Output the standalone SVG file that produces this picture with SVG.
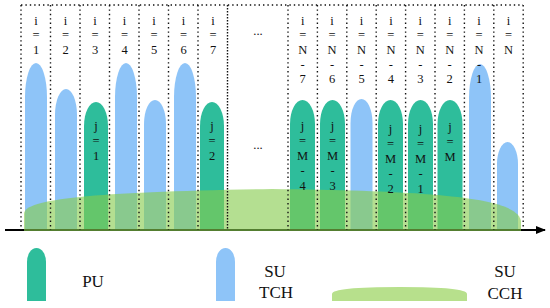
<svg xmlns="http://www.w3.org/2000/svg" width="550" height="308" viewBox="0 0 550 308">
<defs>
<style>
.pu{fill:#2EBD9B}
.su{fill:#8EC4F8}
.cch{fill:#86CC4E;fill-opacity:0.62}
.dot{stroke:#111;stroke-width:1.4;stroke-dasharray:1.4 3;fill:none}
.dotd{stroke:#111;stroke-width:1.4;stroke-dasharray:1.4 1.6;fill:none}
text{font-family:'Liberation Serif','Times New Roman','DejaVu Serif',serif;fill:#111;text-anchor:middle}
.t text{font-size:12.5px}
.lg{font-size:17px}
.axis{stroke:#000;stroke-width:1.8;fill:none}
</style>
<marker id="arr" markerWidth="10" markerHeight="8" refX="9" refY="4" orient="auto" markerUnits="userSpaceOnUse">
<path d="M0,0 L10,4 L0,8 Z" fill="#000"/>
</marker>
</defs>
<rect width="550" height="308" fill="#fff"/>

<g id="bubbles">
<g id="b1"><path class="su" d="M25,230 V97 A11 34 0 0 1 47,97 V230 Z"/></g>
<g id="b2"><path class="su" d="M55,230 V115 A11 26 0 0 1 77,115 V230 Z"/></g>
<g id="b3"><path class="pu" d="M84,230 V126 A12 24 0 0 1 108,126 V230 Z"/></g>
<g id="b4"><path class="su" d="M115,230 V97 A11 34 0 0 1 137,97 V230 Z"/></g>
<g id="b5"><path class="su" d="M144,230 V124 A11 24 0 0 1 166,124 V230 Z"/></g>
<g id="b6"><path class="su" d="M174,230 V97 A11 34 0 0 1 196,97 V230 Z"/></g>
<g id="b7"><path class="pu" d="M200,230 V126 A12 24 0 0 1 224,126 V230 Z"/></g>
<g id="b8"><path class="pu" d="M290,230 V124 A12.5 24 0 0 1 315,124 V230 Z"/></g>
<g id="b9"><path class="pu" d="M320,230 V124 A12.5 24 0 0 1 345,124 V230 Z"/></g>
<g id="b10"><path class="su" d="M350.5,230 V123 A11 24 0 0 1 372.5,123 V230 Z"/></g>
<g id="b11"><path class="pu" d="M378,230 V124 A12.5 24 0 0 1 403,124 V230 Z"/></g>
<g id="b12"><path class="pu" d="M408,230 V124 A12.5 24 0 0 1 433,124 V230 Z"/></g>
<g id="b13"><path class="pu" d="M437.5,230 V124 A12.5 24 0 0 1 462.5,124 V230 Z"/></g>
<g id="b14"><path class="su" d="M469,230 V98 A11 34 0 0 1 491,98 V230 Z"/></g>
<g id="b15"><path class="su" d="M497,230 V164 A10.5 22 0 0 1 518,164 V230 Z"/></g>
</g>

<g id="connectors">
<line class="axis" x1="5" y1="230" x2="545" y2="230" marker-end="url(#arr)"/>
</g>

<g id="cch">
<path class="cch" d="M24,231 L24,214 C24,198 100,192 272,189 C440,191 520,198 521,222 L521,231 Z"/>
</g>

<g id="grid">
<line class="dot" x1="21" y1="5" x2="523" y2="5"/>
<line class="dot" x1="21" y1="5" x2="21" y2="230"/>
<line class="dot" x1="50.5" y1="5" x2="50.5" y2="230"/>
<line class="dot" x1="80" y1="5" x2="80" y2="230"/>
<line class="dot" x1="109.5" y1="5" x2="109.5" y2="230"/>
<line class="dot" x1="139" y1="5" x2="139" y2="230"/>
<line class="dot" x1="168.5" y1="5" x2="168.5" y2="230"/>
<line class="dot" x1="198" y1="5" x2="198" y2="230"/>
<line class="dotd" x1="227.5" y1="5" x2="227.5" y2="230"/>
<line class="dot" x1="288" y1="5" x2="288" y2="230"/>
<line class="dot" x1="317.4" y1="5" x2="317.4" y2="230"/>
<line class="dot" x1="346.8" y1="5" x2="346.8" y2="230"/>
<line class="dot" x1="376.2" y1="5" x2="376.2" y2="230"/>
<line class="dot" x1="405.6" y1="5" x2="405.6" y2="230"/>
<line class="dot" x1="435" y1="5" x2="435" y2="230"/>
<line class="dot" x1="464.4" y1="5" x2="464.4" y2="230"/>
<line class="dot" x1="493.8" y1="5" x2="493.8" y2="230"/>
<line class="dot" x1="523.2" y1="5" x2="523.2" y2="230"/>
</g>

<g id="labels">
<g id="c1" class="t"><text x="36" y="25">i</text><text x="36" y="38.5">=</text><text x="36" y="54">1</text></g>
<g id="c2" class="t"><text x="65.5" y="25">i</text><text x="65.5" y="38.5">=</text><text x="65.5" y="54">2</text></g>
<g id="c3" class="t"><text x="95" y="25">i</text><text x="95" y="38.5">=</text><text x="95" y="54">3</text></g>
<g id="c4" class="t"><text x="124.5" y="25">i</text><text x="124.5" y="38.5">=</text><text x="124.5" y="54">4</text></g>
<g id="c5" class="t"><text x="154" y="25">i</text><text x="154" y="38.5">=</text><text x="154" y="54">5</text></g>
<g id="c6" class="t"><text x="183.5" y="25">i</text><text x="183.5" y="38.5">=</text><text x="183.5" y="54">6</text></g>
<g id="c7" class="t"><text x="213" y="25">i</text><text x="213" y="38.5">=</text><text x="213" y="54">7</text></g>
<g id="gap" class="t"><text x="258" y="35">...</text><text x="258" y="149">...</text></g>
<g id="c8" class="t"><text x="302.7" y="25">i</text><text x="302.7" y="38.5">=</text><text x="302.7" y="54">N</text><text x="302.7" y="68.5">-</text><text x="302.7" y="83">7</text></g>
<g id="c9" class="t"><text x="332.1" y="25">i</text><text x="332.1" y="38.5">=</text><text x="332.1" y="54">N</text><text x="332.1" y="68.5">-</text><text x="332.1" y="83">6</text></g>
<g id="c10" class="t"><text x="361.5" y="25">i</text><text x="361.5" y="38.5">=</text><text x="361.5" y="54">N</text><text x="361.5" y="68.5">-</text><text x="361.5" y="83">5</text></g>
<g id="c11" class="t"><text x="390.9" y="25">i</text><text x="390.9" y="38.5">=</text><text x="390.9" y="54">N</text><text x="390.9" y="68.5">-</text><text x="390.9" y="83">4</text></g>
<g id="c12" class="t"><text x="420.3" y="25">i</text><text x="420.3" y="38.5">=</text><text x="420.3" y="54">N</text><text x="420.3" y="68.5">-</text><text x="420.3" y="83">3</text></g>
<g id="c13" class="t"><text x="449.7" y="25">i</text><text x="449.7" y="38.5">=</text><text x="449.7" y="54">N</text><text x="449.7" y="68.5">-</text><text x="449.7" y="83">2</text></g>
<g id="c14" class="t"><text x="479.1" y="25">i</text><text x="479.1" y="38.5">=</text><text x="479.1" y="54">N</text><text x="479.1" y="68.5">-</text><text x="479.1" y="83">1</text></g>
<g id="c15" class="t"><text x="508.5" y="25">i</text><text x="508.5" y="38.5">=</text><text x="508.5" y="54">N</text></g>

<g id="j1" class="t"><text x="96" y="130">j</text><text x="96" y="145">=</text><text x="96" y="160">1</text></g>
<g id="j2" class="t"><text x="212" y="130">j</text><text x="212" y="145">=</text><text x="212" y="160">2</text></g>
<g id="j3" class="t"><text x="302.5" y="130">j</text><text x="302.5" y="145">=</text><text x="302.5" y="160">M</text><text x="302.5" y="175">-</text><text x="302.5" y="190">4</text></g>
<g id="j4" class="t"><text x="332.5" y="130">j</text><text x="332.5" y="145">=</text><text x="332.5" y="160">M</text><text x="332.5" y="175">-</text><text x="332.5" y="190">3</text></g>
<g id="j5" class="t"><text x="390.5" y="133">j</text><text x="390.5" y="148">=</text><text x="390.5" y="163">M</text><text x="390.5" y="178">-</text><text x="390.5" y="193">2</text></g>
<g id="j6" class="t"><text x="420.5" y="133">j</text><text x="420.5" y="148">=</text><text x="420.5" y="163">M</text><text x="420.5" y="178">-</text><text x="420.5" y="193">1</text></g>
<g id="j7" class="t"><text x="450" y="131">j</text><text x="450" y="146">=</text><text x="450" y="161">M</text></g>
</g>

<g id="legend-pu">
<path class="pu" d="M27,301 V262 A9.5 14 0 0 1 46,262 V301 Z"/>
<text class="lg" x="93" y="287">PU</text>
</g>
<g id="legend-sutch">
<path class="su" d="M216,301 V262 A9.5 14 0 0 1 235,262 V301 Z"/>
<text class="lg" x="275" y="277">SU</text>
<text class="lg" x="276" y="298">TCH</text>
</g>
<g id="legend-succh">
<path fill="#B7E08C" d="M332,301 V294 Q332,287 400,287 Q467,287 467,294 V301 Z"/>
<text class="lg" x="505" y="277">SU</text>
<text class="lg" x="505" y="299">CCH</text>
</g>
</svg>
